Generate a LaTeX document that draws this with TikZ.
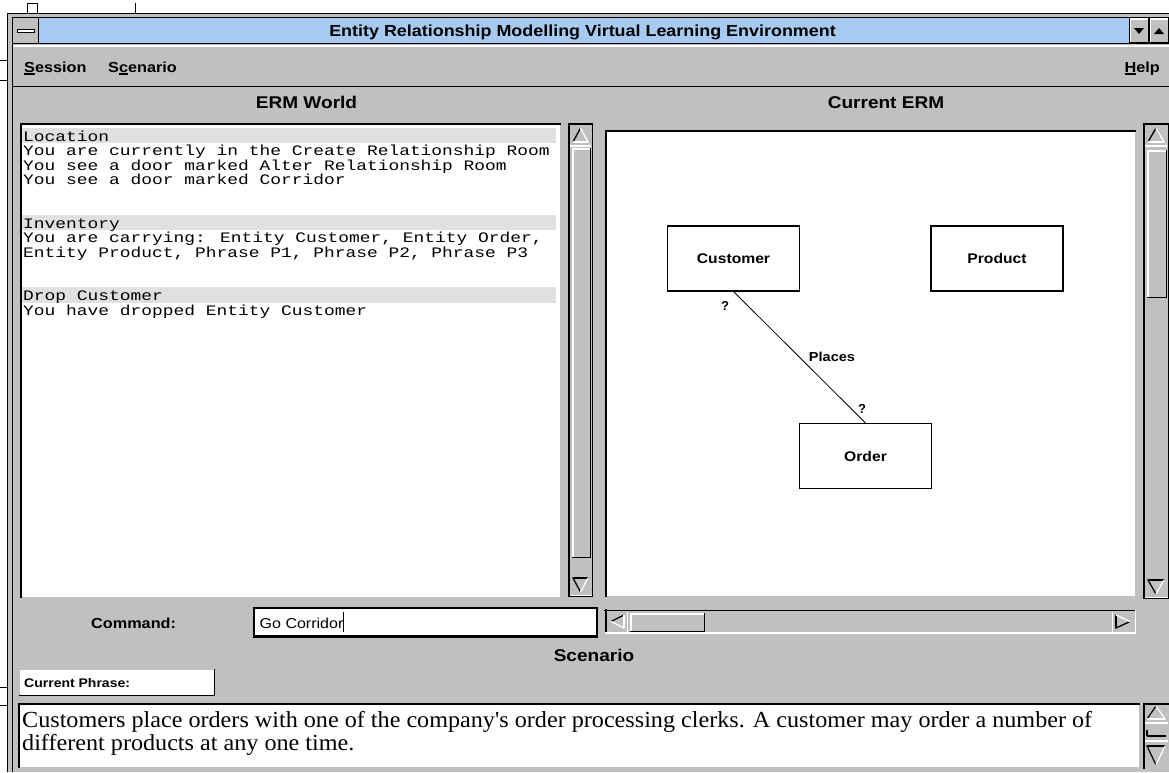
\documentclass[tikz,border=0pt]{standalone}
\usepackage{fontspec}
\usepackage{graphicx}
\setmainfont{Liberation Sans}
\newfontfamily\monofont{Liberation Mono}
\newfontfamily\scenefont{Liberation Serif}

\definecolor{face}{HTML}{C0C0C0}
\definecolor{shade}{HTML}{808080}
\definecolor{titleblue}{HTML}{A6CAF0}
\definecolor{rowgray}{HTML}{E0E0E0}

% bitmap UI fonts run a little wider than Arial
\newcommand\wide[1]{\scalebox{1.12}[1]{#1}}
\newcommand\serifwide[1]{\scalebox{1.05}[1]{#1}}
\newcommand\monowide[1]{\scalebox{1.235}[1]{#1}}
\newcommand\uisize[1]{\fontsize{#1}{#1}\selectfont\bfseries}
% menu accelerator: underlined letter
\newsavebox\accbox
\newcommand\accel[1]{\sbox\accbox{#1}\rlap{\rule[-3pt]{\wd\accbox}{1.6pt}}\usebox\accbox}

% raised 3D edge: light top/left, dark bottom/right
\newcommand\raisededge[4]{%
  \draw[white,line width=1.5] (#1+0.75,#4) -- (#1+0.75,#2);
  \draw[white,line width=1.5] (#1,#2+0.75) -- (#3,#2+0.75);
  \draw[shade,line width=1.5] (#1,#4-0.75) -- (#3,#4-0.75);
  \draw[shade,line width=1.5] (#3-0.75,#4) -- (#3-0.75,#2);
}
% vertical scroll bar: x1 y1 x2 y2 thumbtop thumbbottom
\newcommand\vscrollbar[6]{%
  \fill[face] (#1,#2) rectangle (#3,#4);
  \draw[shade,line width=1.5] (#1+0.75,#2) -- (#1+0.75,#4);
  \draw[shade,line width=1.5] (#3-0.75,#2) -- (#3-0.75,#4);
  \draw[shade,line width=1.5] (#1,#2+0.75) -- (#3,#2+0.75);
  \draw[shade,line width=1.5] (#1,#4-0.75) -- (#3,#4-0.75);
  \draw[shade,line width=1.3,line cap=round] ({(#1+#3)/2},#2+5) -- (#1+5,#2+19);
  \draw[white,line width=1.3,line cap=round] ({(#1+#3)/2},#2+5) -- (#3-5,#2+19);
  \draw[white,line width=1.3,line cap=round] (#3-5,#2+19) -- (#1+5,#2+19);
  \draw[white,line width=1.3] (#1+2,#2+23) -- (#3-2,#2+23);
  \draw[shade,line width=1.3,line cap=round] ({(#1+#3)/2},#4-5) -- (#1+5,#4-19);
  \draw[shade,line width=1.3,line cap=round] (#1+5,#4-19) -- (#3-5,#4-19);
  \draw[white,line width=1.3,line cap=round] ({(#1+#3)/2},#4-5) -- (#3-5,#4-19);
  \draw[white,line width=1.3] (#1+2,#4-1.5) -- (#3-1.5,#4-1.5);
  \fill[face] (#1+4,#5) rectangle (#3-2,#6);
  \raisededge{#1+4}{#5}{#3-2}{#6}
}

\tikzset{
  uitext/.style={inner sep=0pt, anchor=base},
  uileft/.style={inner sep=0pt, anchor=base west},
  monoblock/.style={inner sep=0pt, anchor=north west, align=left,
    font=\monofont\fontsize{14.5}{14.5}\selectfont},
  sceneblock/.style={inner sep=0pt, anchor=north west, align=left,
    font=\scenefont\fontsize{23}{23}\selectfont},
  entity/.style={draw, line width=1.1, fill=white, minimum width=132pt,
    minimum height=65pt, inner sep=0pt, font=\uisize{14}},
  relation/.style={line width=0.8},
  cardinality/.style={inner sep=0pt, anchor=base, font=\uisize{13}},
  edgeline/.style={shade, line width=1.5, line cap=rect},
}

\begin{document}
% fixed line pitch in the multi-line text blocks
\lineskiplimit=-40pt
\begin{tikzpicture}[x=1pt,y=-1pt]
\useasboundingbox (0,0) rectangle (1169,772);
\fill[white] (0,0) rectangle (1169,772);

% edges of windows lying behind
\draw[line width=0.8] (27,3) -- (27,13);
\draw[line width=0.8] (37,3) -- (37,13);
\draw[line width=0.8] (135,3) -- (135,13);
\draw[line width=0.8] (27,3.5) -- (37,3.5);
\draw[line width=0.8] (0,60) -- (7,60);
\draw[line width=0.8] (0,80) -- (7,80);
\draw[line width=0.8] (0,687) -- (7,687);
\draw[line width=0.8] (0,705) -- (7,705);

% window frame
\fill[face] (7.5,13) rectangle (1169,772);
\draw[line width=1] (7.5,772) -- (7.5,13);
\draw[line width=1] (7,13) -- (1169,13);
\draw[line width=1] (12,772) -- (12,17.5);
\draw[line width=1] (12,17.5) -- (1169,17.5);

% title bar
\fill[titleblue] (12.5,18) rectangle (1169,43);
\draw[line width=1] (12,43.5) -- (1169,43.5);
\fill[face] (12.5,18) rectangle (38,43);
\draw[line width=1] (38.5,18) -- (38.5,43);
\draw[fill=white,line width=0.9] (17,29) rectangle (34,32.5);
\fill[face] (1129,18) rectangle (1169,43);
\raisededge{1129.5}{18}{1149}{43}
\raisededge{1149.5}{18}{1169}{43}
\draw[line width=1] (1129,18) -- (1129,43);
\draw[line width=1] (1149,18) -- (1149,43);
\fill (1134,28) -- (1144,28) -- (1139,34) -- cycle;
\fill (1154,34) -- (1164,34) -- (1159,28) -- cycle;
\node[uitext, font=\uisize{16}] (title) at (582.5,36.5)
  {\wide{Entity Relationship Modelling Virtual Learning Environment}};

% menu bar
\draw[white,line width=1.5] (13,46) -- (1169,46);
\draw[shade,line width=1.5] (13,86.5) -- (1169,86.5);
\node[uileft, font=\uisize{14.5}] (menusession) at (24,72) {\wide{\accel{S}ession}};
\node[uileft, font=\uisize{14.5}] (menuscenario) at (108,72) {\wide{S\accel{c}enario}};
\node[uitext, anchor=base east, font=\uisize{14.5}] (menuhelp) at (1160,72) {\wide{\accel{H}elp}};

% pane headings
\node[uitext, font=\uisize{17}] (worldhead) at (306.5,108) {\wide{ERM World}};
\node[uitext, font=\uisize{17}] (erdhead) at (886,108) {\wide{Current ERM}};

% ERM World text pane
\fill[white] (20,123) rectangle (560,597);
\draw[edgeline] (20.75,597) -- (20.75,123.75);
\draw[edgeline] (20.75,123.75) -- (560,123.75);
\fill[rowgray] (22,127.5) rectangle (556,143);
\fill[rowgray] (22,214.5) rectangle (556,230);
\fill[rowgray] (22,287) rectangle (556,302.5);
\node[monoblock] (worldtext) at (23,129) {\rule{0pt}{12pt}\monowide{Location}\\
\monowide{You are currently in the Create Relationship Room}\\
\monowide{You see a door marked Alter Relationship Room}\\
\monowide{You see a door marked Corridor}\\[29pt]
\monowide{Inventory}\\
\monowide{You are carrying: Entity Customer, Entity Order,}\\
\monowide{Entity Product, Phrase P1, Phrase P2, Phrase P3}\\[29pt]
\monowide{Drop Customer}\\
\monowide{You have dropped Entity Customer}};
\vscrollbar{568}{123}{593}{597}{148}{558}

% Current ERM canvas
\fill[white] (605,130) rectangle (1135,596);
\draw[edgeline] (605.75,596) -- (605.75,130.75);
\draw[edgeline] (605.75,130.75) -- (1135,130.75);
\vscrollbar{1143}{123}{1169}{599}{150}{298}

\node[entity] (customer) at (733.5,258.5) {\wide{Customer}};
\node[entity] (product)  at (997,258.5)   {\wide{Product}};
\node[entity] (order)    at (865.5,456)   {\wide{Order}};
\draw[relation] (customer.south) -- (order.north)
  node[pos=0.5, right=9pt, inner sep=0pt, font=\uisize{13}] (places) {\wide{Places}};
\node[cardinality] (cardcust) at (725,310) {?};
\node[cardinality] (cardord)  at (862,413) {?};

% command line
\node[uileft, font=\uisize{14.5}] (cmdlabel) at (91,628) {\wide{Command:}};
\draw[fill=white,line width=2.2] (254,608) rectangle (597,636.5);
\node[uileft, font=\fontsize{14.3}{14.3}\selectfont] (cmdtext) at (259.5,628) {\wide{Go Corridor}};
\draw[line width=1.6] (343.5,612) -- (343.5,632);

% horizontal scroll bar under the canvas
\fill[face] (605,609) rectangle (1136,634);
\draw[edgeline] (605,610.25) -- (1135,610.25);
\draw[edgeline] (605.75,610) -- (605.75,633);
\draw[white,line width=1.5] (605,633) -- (1136,633);
\draw[white,line width=1.5] (1135.25,610) -- (1135.25,633.5);
\draw[shade,line width=1.3,line cap=round] (611,621.5) -- (624,615);
\draw[white,line width=1.3,line cap=round] (611,621.5) -- (624,628);
\draw[white,line width=1.3,line cap=round] (624,628) -- (624,615);
\draw[white,line width=1.3] (627.5,612) -- (627.5,632);
\fill[face] (630,613) rectangle (705,632);
\raisededge{630}{613}{705}{632}
\draw[shade,line width=1.3,line cap=round] (1130,621.5) -- (1116,628);
\draw[shade,line width=1.3,line cap=round] (1116,628) -- (1116,615);
\draw[white,line width=1.3,line cap=round] (1130,621.5) -- (1116,615);
\draw[white,line width=1.3] (1112.5,612) -- (1112.5,632);

% scenario section
\node[uitext, font=\uisize{17}] (scenhead) at (594,661) {\wide{Scenario}};
\fill[white] (20,670) rectangle (215,695);
\draw[edgeline] (214.25,670) -- (214.25,695.25);
\draw[edgeline] (214.25,695.25) -- (20,695.25);
\node[uileft, font=\uisize{12.5}] (phrase) at (24,687) {\wide{Current Phrase:}};

\fill[white] (18,703) rectangle (1139,767);
\draw[edgeline] (18.75,767) -- (18.75,703.75);
\draw[edgeline] (18.75,703.75) -- (1139,703.75);
\node[sceneblock] (scentext) at (22,710) {\rule{0pt}{17pt}\serifwide{Customers place orders with one of the company's order processing clerks. A customer may order a number of}\\
\serifwide{different products at any one time.}};

% small scroll bar beside the scenario text
\fill[face] (1143,703) rectangle (1169,768);
\draw[edgeline] (1143.75,703.75) -- (1143.75,768);
\draw[edgeline] (1143.75,703.75) -- (1169,703.75);
\draw[shade,line width=1.2,line cap=round] (1156,706) -- (1147,719);
\draw[white,line width=1.2,line cap=round] (1156,706) -- (1165,719);
\draw[white,line width=1.2,line cap=round] (1165,719) -- (1147,719);
\draw[white,line width=1.2] (1145,723) -- (1168,723);
\draw[shade,line width=1.2] (1147,730) -- (1147,736);
\draw[shade,line width=1.2] (1147,736) -- (1166,736);
\draw[white,line width=1.2] (1145,741) -- (1168,741);
\draw[shade,line width=1.2,line cap=round] (1156,765) -- (1147,746);
\draw[shade,line width=1.2,line cap=round] (1147,746) -- (1165,746);
\draw[white,line width=1.2,line cap=round] (1156,765) -- (1165,746);
\end{tikzpicture}
\end{document}
